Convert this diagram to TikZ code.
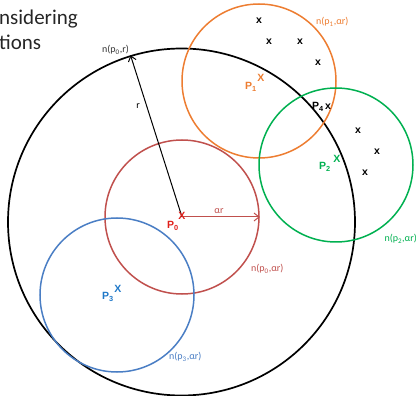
\documentclass[tikz,border=0pt]{standalone}
\usepackage{fontspec}
\setmainfont{Carlito}
\newfontfamily\markfont{Liberation Sans}
\usetikzlibrary{arrows.meta}
\definecolor{nred}{HTML}{C0504D}
\definecolor{norange}{HTML}{ED7D31}
\definecolor{ngreen}{HTML}{00B050}
\definecolor{nblue}{HTML}{4A7EC4}
\definecolor{ptred}{HTML}{E0201B}
\definecolor{ptblue}{HTML}{1F78C8}
\begin{document}
\begin{tikzpicture}[x=1pt,y=-1pt,
  hood/.style={circle,draw,inner sep=0pt,line width=1.5pt,minimum size=154pt},
  lbl/.style={font=\fontsize{10}{11}\selectfont,inner sep=0pt},
  pt/.style={font=\markfont\bfseries\fontsize{10.5}{11}\selectfont,inner sep=0pt},
  plbl/.style={font=\markfont\bfseries\fontsize{10.5}{11}\selectfont,inner sep=0pt},
  dot/.style={font=\markfont\bfseries\fontsize{10.5}{11}\selectfont,inner sep=0pt},
  barb/.style={-{Straight Barb[length=5pt,width=8pt]},line width=1pt}]
\useasboundingbox (0,0) rectangle (416,396);
\clip (0,0) rectangle (416,396);

% heading fragment
\node[anchor=base west,inner sep=0pt,text=black!85,font=\fontsize{21}{24}\selectfont] (h1) at (-1,25) {nsidering};
\node[anchor=base west,inner sep=0pt,text=black!85,font=\fontsize{21}{24}\selectfont] (h2) at (-1,50) {tions};

% centres
\coordinate (p0) at (182,217);
\coordinate (p1) at (259,81);
\coordinate (p2) at (336,165);
\coordinate (p3) at (117,295);

% neighbourhoods
\node[circle,draw,inner sep=0pt,line width=1.7pt,minimum size=347pt] (big) at (181.5,222) {};
\node[hood,draw=nred] (n0) at (p0) {};
\node[hood,draw=norange] (n1) at (p1) {};
\node[hood,draw=ngreen] (n2) at (p2) {};
\node[hood,draw=nblue] (n3) at (p3) {};

% radii
\draw[barb,black] (p0) -- (big.107);
\draw[barb,nred] (p0) -- (n0.east);
\node[lbl] (rl) at (138,106) {r};
\node[lbl,text=nred] (arl) at (219,211) {αr};

% neighbourhood labels
\node[lbl,anchor=west,text=black!80] (l0r) at (102,50) {n(p\textsubscript{0},r)};
\node[lbl,anchor=west,text=nred] (l0) at (251,269) {n(p\textsubscript{0},αr)};
\node[lbl,anchor=west,text=norange] (l1) at (316,22) {n(p\textsubscript{1},αr)};
\node[lbl,anchor=east,text=ngreen] (l2) at (417,239) {n(p\textsubscript{2},αr)};
\node[lbl,anchor=west,text=nblue] (l3) at (169,357) {n(p\textsubscript{3},αr)};

% points
\node[pt,text=ptred] (x0) at (182,216) {X};
\node[plbl,text=ptred] (P0) at (173,226) {P\textsubscript{0}};
\node[pt,text=norange] (x1) at (261,78) {X};
\node[plbl,text=norange] (P1) at (251,87) {P\textsubscript{1}};
\node[pt,text=ngreen] (x2) at (337,159) {X};
\node[plbl,text=ngreen] (P2) at (325,167) {P\textsubscript{2}};
\node[pt,text=ptblue] (x3) at (118,289) {X};
\node[plbl,text=ptblue] (P3) at (108,297) {P\textsubscript{3}};
\node[plbl] (P4) at (318,107) {P\textsubscript{4}};
\node[dot] (x4) at (328,107) {x};

% other samples
\node[dot] (a1) at (259,21) {x};
\node[dot] (a2) at (269,42) {x};
\node[dot] (a3) at (300,42) {x};
\node[dot] (a4) at (318,63) {x};
\node[dot] (b1) at (358,131) {x};
\node[dot] (b2) at (377,152) {x};
\node[dot] (b3) at (365,173) {x};
\end{tikzpicture}
\end{document}
